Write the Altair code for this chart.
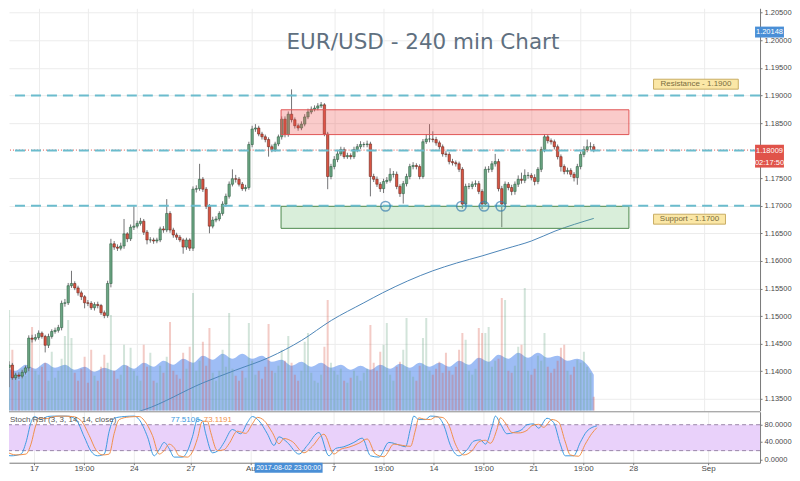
import altair as alt
import pandas as pd

# ---------------- data ----------------
bar_index = list(range(-10, 170))
opens = [1.1434,1.1407,1.1411,1.1388,1.1393,1.1391,1.1398,1.1406,1.1460,1.1458,
         1.1461,1.1469,1.1463,1.1447,1.1463,1.1472,1.1474,1.1479,1.1523,1.1524,
         1.1555,1.1559,1.1551,1.1542,1.1535,1.1524,1.1523,1.1515,1.1521,1.1519,
         1.1506,1.1501,1.1559,1.1631,1.1625,1.1623,1.1627,1.1649,1.1640,1.1661,
         1.1663,1.1668,1.1672,1.1652,1.1638,1.1638,1.1636,1.1638,1.1658,1.1656,
         1.1686,1.1656,1.1647,1.1643,1.1638,1.1625,1.1638,1.1623,1.1730,1.1731,
         1.1748,1.1730,1.1699,1.1663,1.1674,1.1676,1.1686,1.1703,1.1717,1.1739,
         1.1749,1.1748,1.1739,1.1731,1.1733,1.1811,1.1839,1.1841,1.1830,1.1825,
         1.1820,1.1807,1.1802,1.1812,1.1825,1.1857,1.1829,1.1866,1.1856,1.1845,
         1.1841,1.1848,1.1861,1.1870,1.1875,1.1877,1.1881,1.1883,1.1830,1.1753,
         1.1771,1.1784,1.1794,1.1802,1.1789,1.1791,1.1789,1.1802,1.1807,1.1811,
         1.1811,1.1812,1.1753,1.1748,1.1739,1.1731,1.1744,1.1746,1.1757,1.1757,
         1.1735,1.1722,1.1740,1.1753,1.1771,1.1773,1.1771,1.1753,1.1816,1.1821,
         1.1821,1.1820,1.1814,1.1807,1.1794,1.1793,1.1780,1.1778,1.1776,1.1766,
         1.1703,1.1735,1.1735,1.1739,1.1740,1.1726,1.1703,1.1766,1.1766,1.1776,
         1.1780,1.1731,1.1703,1.1739,1.1733,1.1726,1.1739,1.1748,1.1746,1.1755,
         1.1755,1.1751,1.1744,1.1766,1.1802,1.1825,1.1818,1.1816,1.1807,1.1789,
         1.1771,1.1762,1.1764,1.1757,1.1751,1.1771,1.1793,1.1802,1.1807,1.1807]
highs = [1.1441,1.1418,1.1415,1.1397,1.1398,1.1402,1.1410,1.1465,1.1466,1.1467,
         1.1474,1.1472,1.1466,1.1468,1.1476,1.1479,1.1484,1.1528,1.1531,1.1560,
         1.1582,1.1563,1.1555,1.1546,1.1538,1.1529,1.1527,1.1525,1.1526,1.1522,
         1.1510,1.1564,1.1640,1.1636,1.1630,1.1633,1.1676,1.1652,1.1666,1.1699,
         1.1673,1.1678,1.1676,1.1656,1.1643,1.1642,1.1642,1.1662,1.1663,1.1712,
         1.1690,1.1660,1.1651,1.1647,1.1641,1.1642,1.1641,1.1735,1.1737,1.1776,
         1.1752,1.1734,1.1703,1.1680,1.1681,1.1690,1.1708,1.1722,1.1744,1.1766,
         1.1756,1.1752,1.1743,1.1738,1.1816,1.1845,1.1848,1.1845,1.1834,1.1829,
         1.1824,1.1811,1.1816,1.1829,1.1862,1.1862,1.1871,1.1911,1.1860,1.1849,
         1.1853,1.1866,1.1876,1.1880,1.1882,1.1886,1.1888,1.1886,1.1834,1.1776,
         1.1790,1.1800,1.1807,1.1806,1.1796,1.1795,1.1807,1.1812,1.1817,1.1815,
         1.1818,1.1816,1.1758,1.1753,1.1743,1.1749,1.1752,1.1768,1.1763,1.1762,
         1.1739,1.1745,1.1758,1.1776,1.1779,1.1777,1.1775,1.1821,1.1830,1.1848,
         1.1835,1.1825,1.1818,1.1811,1.1799,1.1797,1.1785,1.1782,1.1780,1.1770,
         1.1740,1.1741,1.1744,1.1746,1.1745,1.1730,1.1771,1.1772,1.1781,1.1794,
         1.1785,1.1736,1.1744,1.1743,1.1738,1.1744,1.1755,1.1760,1.1766,1.1761,
         1.1759,1.1757,1.1770,1.1807,1.1830,1.1829,1.1822,1.1820,1.1811,1.1793,
         1.1775,1.1769,1.1768,1.1761,1.1776,1.1798,1.1808,1.1820,1.1815,1.1812]
lows = [1.1402,1.1371,1.1384,1.1384,1.1386,1.1387,1.1394,1.1400,1.1452,1.1454,
        1.1457,1.1459,1.1434,1.1442,1.1459,1.1468,1.1470,1.1474,1.1517,1.1520,
        1.1551,1.1547,1.1537,1.1529,1.1514,1.1518,1.1511,1.1510,1.1514,1.1502,
        1.1496,1.1497,1.1552,1.1620,1.1618,1.1619,1.1622,1.1634,1.1636,1.1656,
        1.1659,1.1664,1.1647,1.1630,1.1633,1.1631,1.1632,1.1634,1.1651,1.1652,
        1.1651,1.1642,1.1638,1.1634,1.1613,1.1620,1.1618,1.1618,1.1724,1.1727,
        1.1725,1.1694,1.1650,1.1659,1.1670,1.1672,1.1682,1.1698,1.1713,1.1735,
        1.1742,1.1735,1.1727,1.1726,1.1729,1.1806,1.1834,1.1826,1.1820,1.1815,
        1.1789,1.1797,1.1798,1.1808,1.1820,1.1824,1.1825,1.1851,1.1840,1.1836,
        1.1837,1.1844,1.1857,1.1866,1.1871,1.1873,1.1877,1.1826,1.1730,1.1748,
        1.1766,1.1779,1.1790,1.1785,1.1785,1.1784,1.1785,1.1797,1.1803,1.1806,
        1.1806,1.1717,1.1743,1.1734,1.1725,1.1723,1.1740,1.1742,1.1751,1.1730,
        1.1716,1.1704,1.1735,1.1748,1.1766,1.1766,1.1748,1.1749,1.1812,1.1815,
        1.1815,1.1809,1.1802,1.1789,1.1788,1.1775,1.1773,1.1771,1.1761,1.1695,
        1.1698,1.1730,1.1730,1.1734,1.1721,1.1694,1.1698,1.1760,1.1761,1.1771,
        1.1726,1.1661,1.1698,1.1728,1.1719,1.1720,1.1734,1.1740,1.1741,1.1749,
        1.1746,1.1737,1.1739,1.1761,1.1797,1.1813,1.1811,1.1802,1.1784,1.1762,
        1.1757,1.1757,1.1752,1.1744,1.1738,1.1766,1.1788,1.1797,1.1801,1.1797]
closes = [1.1407,1.1411,1.1388,1.1393,1.1391,1.1398,1.1406,1.1460,1.1458,1.1461,
          1.1469,1.1463,1.1447,1.1463,1.1472,1.1474,1.1479,1.1523,1.1524,1.1555,
          1.1559,1.1551,1.1542,1.1535,1.1524,1.1523,1.1515,1.1521,1.1519,1.1506,
          1.1501,1.1559,1.1631,1.1625,1.1623,1.1627,1.1649,1.1640,1.1661,1.1663,
          1.1668,1.1672,1.1652,1.1638,1.1638,1.1636,1.1638,1.1658,1.1656,1.1686,
          1.1656,1.1647,1.1643,1.1638,1.1625,1.1638,1.1623,1.1730,1.1731,1.1748,
          1.1730,1.1699,1.1663,1.1674,1.1676,1.1686,1.1703,1.1717,1.1739,1.1749,
          1.1748,1.1739,1.1731,1.1733,1.1811,1.1839,1.1841,1.1830,1.1825,1.1820,
          1.1807,1.1802,1.1812,1.1825,1.1857,1.1829,1.1866,1.1856,1.1845,1.1841,
          1.1848,1.1861,1.1870,1.1875,1.1877,1.1881,1.1883,1.1830,1.1753,1.1771,
          1.1784,1.1794,1.1802,1.1789,1.1791,1.1789,1.1802,1.1807,1.1811,1.1811,
          1.1812,1.1753,1.1748,1.1739,1.1731,1.1744,1.1746,1.1757,1.1757,1.1735,
          1.1722,1.1740,1.1753,1.1771,1.1773,1.1771,1.1753,1.1816,1.1821,1.1821,
          1.1820,1.1814,1.1807,1.1794,1.1793,1.1780,1.1778,1.1776,1.1766,1.1703,
          1.1735,1.1735,1.1739,1.1740,1.1726,1.1703,1.1766,1.1766,1.1776,1.1780,
          1.1731,1.1703,1.1739,1.1733,1.1726,1.1739,1.1748,1.1746,1.1755,1.1755,
          1.1751,1.1744,1.1766,1.1802,1.1825,1.1818,1.1816,1.1807,1.1789,1.1771,
          1.1762,1.1764,1.1757,1.1751,1.1771,1.1793,1.1802,1.1807,1.1807,1.1801]
volumes = [45,101,61,38,30,42,35,50,84,40,
           36,44,48,30,59,33,40,52,75,91,
           73,38,30,42,54,28,61,35,30,44,
           56,48,96,40,32,36,66,45,63,40,
           35,30,66,44,58,30,28,45,38,54,
           89,40,36,32,58,42,64,118,40,50,
           69,45,83,38,30,40,61,44,98,42,
           35,30,40,33,88,50,36,40,32,44,
           87,40,38,45,61,50,75,48,36,30,
           40,69,78,38,30,28,36,64,111,48,
           40,36,42,30,28,33,40,35,30,38,
           42,86,48,40,59,66,88,36,30,44,
           49,61,93,40,34,30,45,73,93,40,
           36,42,49,38,58,40,36,44,61,78,
           71,40,36,42,83,78,78,84,44,50,
           52,113,111,40,38,45,64,66,123,40,
           36,42,55,50,78,44,38,42,50,63,
           66,40,36,44,51,48,59,44,38,14]

vol_wave_index = [-10,-7,-4,-1,2,5,8,11,14,17,20,23,26,29,32,35,38,41,44,47,50,53,56,59,62,
                  65,68,71,74,77,80,83,86,89,92,95,98,101,104,107,110,113,116,119,122,125,
                  128,131,134,137,140,143,146,149,152,155,158,161,164,167,169]
vol_wave_value = [44,40,46,42,48,43,46,41,44,39,43,40,46,42,48,44,50,46,52,48,55,51,57,52,57,
                  52,55,49,51,45,49,44,48,43,46,41,45,41,46,42,47,43,48,44,48,44,
                  50,46,53,49,56,52,58,53,58,53,55,50,52,46,36]

ma_index = [25, 32.1, 50.1, 60, 70.2, 80.1, 89.1, 99, 104.7, 120, 127.2, 135, 142.2, 150, 157.2, 169]
ma_value = [1.1318, 1.1330, 1.1379, 1.1402, 1.1425, 1.1456, 1.1492, 1.1524, 1.1542, 1.1582,
            1.1596, 1.1609, 1.1622, 1.1636, 1.1654, 1.1677]

k_index = [-9.9,-6.9,-3.9,-2.4,-0.9,0.1,2.1,4.1,6.1,10.1,12.6,15.1,17.1,19.1,21.1,22.6,24.1,27.1,
           30.1,31.6,34.1,36.1,37.6,39.1,40.6,42.1,44.6,46.1,47.6,49.1,50.6,51.6,53.6,55.6,57.1,
           59.6,62.1,64.1,65.6,67.6,70.1,72.1,73.6,76.1,79.6,82.1,85.6,88.6,90.6,93.1,96.1,98.6,
           101.1,103.6,106.6,110.1,111.6,113.1,114.1,115.6,117.6,119.1,121.1,123.1,125.1,127.6,
           130.1,132.1,134.1,135.6,137.6,138.6,140.1,142.1,144.1,146.6,148.1,150.1,151.6,154.1,
           156.1,158.1,159.6,162.1,164.1,166.1,169.1]
k_value = [15,8,12,39,85,99,92,99,100,100,92,52,19,8,12,65,95,99,
           100,92,52,8,22,39,25,5,5,19,52,92,89,59,15,22,39,
           69,59,85,99,89,59,32,52,39,12,32,62,8,25,29,39,49,
           8,5,39,32,29,72,100,92,92,100,99,79,32,8,
           22,42,45,35,75,100,82,59,62,69,80,82,72,95,
           85,35,8,8,39,65,77.5]
d_index = [-8.4,-5.4,-2.4,-0.9,0.6,1.6,3.6,5.6,7.6,11.6,14.1,16.6,18.6,20.6,22.6,24.1,25.6,28.6,
           31.6,33.1,35.6,37.6,39.1,40.6,42.1,43.6,46.1,47.6,49.1,50.6,52.1,53.1,55.1,57.1,58.6,
           61.1,63.6,65.6,67.1,69.1,71.6,73.6,75.1,77.6,81.1,83.6,87.1,90.1,92.1,94.6,97.6,100.1,
           102.6,105.1,108.1,111.6,113.1,114.6,115.6,117.1,119.1,120.6,122.6,124.6,126.6,129.1,
           131.6,133.6,135.6,137.1,139.1,140.1,141.6,143.6,145.6,148.1,149.6,151.6,153.1,155.6,
           157.6,159.6,161.1,163.6,165.6,167.6,169.1]
d_value = [18,10,12,35,80,96,94,98,100,99,90,55,22,10,12,60,92,98,
           99,90,55,12,20,35,27,8,5,17,48,88,88,62,20,22,36,
           65,60,82,97,90,62,36,48,41,15,30,58,12,23,28,37,47,
           12,6,35,31,30,68,96,93,92,98,97,80,35,10,
           20,40,44,37,70,96,84,62,61,67,78,81,74,92,
           86,40,10,7,35,60,73.1]

level_prices = [1.19, 1.18, 1.17]
last_price = 1.18009
zone_start, zone_end = 73.8, 179.7
res_lo, res_hi = 1.1829, 1.1874
sup_lo, sup_hi = 1.1659, 1.1699
touch_index = [105.6, 128.7, 135.6, 140.7]
touch_price = 1.1699

tick_index = [0, 15, 30, 47, 65, 90, 105, 120, 135, 150, 165, 180, 202.5]
tick_label = ['17', '19:00', '24', '27', 'Au', '7', '19:00', '14', '19:00', '21', '19:00', '28', 'Sep']
price_ticks = [1.135, 1.14, 1.145, 1.15, 1.155, 1.16, 1.165, 1.17, 1.175, 1.185, 1.19, 1.195, 1.20, 1.205]

# ---------------- frames ----------------
df = pd.DataFrame({'i': bar_index, 'o': opens, 'h': highs, 'l': lows, 'c': closes, 'v': volumes})
df['dir'] = ['up' if c >= o else 'down' for o, c in zip(opens, closes)]
df_wave = pd.DataFrame({'i': vol_wave_index, 'v': vol_wave_value})
df_ma = pd.DataFrame({'i': ma_index, 'p': ma_value})
df_k = pd.DataFrame({'i': k_index, 'v': k_value})
df_d = pd.DataFrame({'i': d_index, 'v': d_value})

X_DOM = [-7.5, 218.1]
P_DOM = [1.13282, 1.2058]
V_DOM = [0, 403]
S_DOM = [-8, 110]
W = 752
H_MAIN = 403
H_STOCH = 51
FONT = 'Liberation Sans'
GRID = '#ececec'
AX = '#777777'
LBL = '#4a4a4a'

xscale = alt.Scale(domain=X_DOM, nice=False, zero=False)
x_axis_main = alt.Axis(values=tick_index, labels=False, ticks=False, domain=False,
                       grid=True, gridColor=GRID)
expr = " : ".join(f"datum.value == {v} ? '{l}'" for v, l in zip(tick_index, tick_label)) + " : ''"
x_axis_stoch = alt.Axis(values=tick_index, labelExpr=expr, grid=True, gridColor=GRID,
                        domainColor=AX, tickColor=AX, tickSize=2, labelPadding=0,
                        labelFont=FONT, labelFontSize=8, labelColor=LBL,
                        labelOverlap=False, labelFlush=False)
y_axis_price = alt.Axis(orient='right', values=price_ticks, format='.5f', grid=True,
                        gridColor=GRID, domainColor=AX, tickColor=AX, tickSize=2,
                        labelPadding=2, labelFont=FONT, labelFontSize=7.5, labelColor=LBL)
y_axis_stoch = alt.Axis(orient='right', values=[0, 40, 80], format='.4f', grid=False,
                        domainColor=AX, tickColor=AX, tickSize=2, labelPadding=2,
                        labelFont=FONT, labelFontSize=7.5, labelColor=LBL)


def xm(f):
    return alt.X(f'{f}:Q', scale=xscale, axis=x_axis_main, title=None)


def xs(f):
    return alt.X(f'{f}:Q', scale=xscale, axis=x_axis_stoch, title=None)


def yp(f):
    return alt.Y(f'{f}:Q', scale=alt.Scale(domain=P_DOM, nice=False, zero=False),
                 axis=y_axis_price, title=None)


def ys(f):
    return alt.Y(f'{f}:Q', scale=alt.Scale(domain=S_DOM, nice=False, zero=False),
                 axis=y_axis_stoch, title=None)


def yv(f):
    return alt.Y(f'{f}:Q', scale=alt.Scale(domain=V_DOM, nice=False), axis=None, title=None)


dir_fill = alt.Color('dir:N', scale=alt.Scale(domain=['up', 'down'], range=['#6ba583', '#d75442']), legend=None)
dir_stroke = alt.Stroke('dir:N', scale=alt.Scale(domain=['up', 'down'], range=['#225437', '#5b1a13']), legend=None)

base = alt.Chart(df)

# volume layers
vol_area = alt.Chart(df_wave).mark_area(color='#4f86ec', opacity=0.55, clip=True,
                                         interpolate='monotone').encode(x=xm('i'), y=yv('v'))
vol_bars = base.mark_bar(size=2, opacity=0.3, clip=True).encode(x=xm('i'), y=yv('v'), color=dir_fill)
vol_layer = alt.layer(vol_area, vol_bars)

# price layers
wicks = base.mark_rule(color='#737375', strokeWidth=1, clip=True).encode(x=xm('i'), y=yp('l'), y2='h')
bodies = base.mark_bar(size=2.4, strokeWidth=0.5, clip=True).encode(
    x=xm('i'), y=yp('o'), y2='c', color=dir_fill, stroke=dir_stroke)
ma = alt.Chart(df_ma).mark_line(color='#4d86b8', strokeWidth=1, clip=True,
                                interpolate='monotone').encode(x=xm('i'), y=yp('p'))

res_zone = alt.Chart(pd.DataFrame({'x1': [zone_start], 'x2': [zone_end], 'p1': [res_lo], 'p2': [res_hi]})).mark_rect(
    fill='#ef5350', fillOpacity=0.3, stroke='#e05555', strokeWidth=1).encode(
    x=xm('x1'), x2='x2', y=yp('p1'), y2='p2')
sup_zone = alt.Chart(pd.DataFrame({'x1': [zone_start], 'x2': [zone_end], 'p1': [sup_lo], 'p2': [sup_hi]})).mark_rect(
    fill='#66bb6a', fillOpacity=0.25, stroke='#4d8a4d', strokeWidth=1).encode(
    x=xm('x1'), x2='x2', y=yp('p1'), y2='p2')

cur_line = alt.Chart(pd.DataFrame({'p': [last_price]})).mark_rule(
    color='#e0504a', strokeDash=[1, 2], strokeWidth=1).encode(y=yp('p'))
levels = alt.Chart(pd.DataFrame({'p': level_prices})).mark_rule(
    color='#6bbccd', strokeDash=[10, 6], strokeWidth=2).encode(y=yp('p'))

touches = alt.Chart(pd.DataFrame({'i': touch_index, 'p': [touch_price] * len(touch_index)})).mark_point(
    shape='circle', size=90, filled=False, stroke='#3a7fb0', strokeWidth=1.6).encode(x=xm('i'), y=yp('p'))

tags = pd.DataFrame({'x1': [187.2, 187.2], 'x2': [213.0, 209.1],
                     'p1': [1.19114, 1.16666], 'p2': [1.19294, 1.16846],
                     'xc': [200.1, 198.15], 'pc': [1.19204, 1.16756],
                     't': ['Resistance - 1.1900', 'Support - 1.1700']})
tag_box = alt.Chart(tags).mark_rect(fill='#fbe7a6', stroke='#c9ad63', strokeWidth=1).encode(
    x=xm('x1'), x2='x2', y=yp('p1'), y2='p2')
tag_txt = alt.Chart(tags).mark_text(font=FONT, fontSize=8, color='#7a6d40').encode(
    x=xm('xc'), y=yp('pc'), text='t:N')

title_txt = alt.Chart(pd.DataFrame({'i': [117], 'p': [1.19946], 't': ['EUR/USD - 240 min Chart']})).mark_text(
    font='DejaVu Sans', fontSize=21.5, color='#5f7080').encode(x=xm('i'), y=yp('p'), text='t:N')

hi_badge = alt.Chart(pd.DataFrame({'x1': [218.1], 'x2': [226.9], 'p1': [1.2005], 'p2': [1.20248]})).mark_rect(
    fill='#4a8fd6', clip=False).encode(x=xm('x1'), x2='x2', y=yp('p1'), y2='p2')
last_badge = alt.Chart(pd.DataFrame({'x1': [218.1], 'x2': [226.9], 'p1': [1.17692], 'p2': [1.18106]})).mark_rect(
    fill='#e0534a', clip=False).encode(x=xm('x1'), x2='x2', y=yp('p1'), y2='p2')
badge_txt = alt.Chart(pd.DataFrame({'i': [222.5, 222.5, 222.5], 'p': [1.20148, 1.18000, 1.17782],
                                    't': ['1.20148', '1.18009', '02:17:50']})).mark_text(
    font=FONT, fontSize=7.5, color='white').encode(x=xm('i'), y=yp('p'), text='t:N')

price_layer = alt.layer(wicks, bodies, ma, res_zone, sup_zone, cur_line, levels, touches,
                        tag_box, tag_txt, title_txt, hi_badge, last_badge, badge_txt)

main = alt.layer(vol_layer, price_layer).resolve_scale(y='independent').properties(width=W, height=H_MAIN)

# stochastic RSI pane
band = alt.Chart(pd.DataFrame({'x1': [X_DOM[0]], 'x2': [X_DOM[1]], 'lo': [20], 'hi': [80]})).mark_rect(
    color='#e9d1fa').encode(x=xs('x1'), x2='x2', y=ys('lo'), y2='hi')
band_lines = alt.Chart(pd.DataFrame({'v': [20, 80]})).mark_rule(
    color='#9a86a8', strokeDash=[4, 3], strokeWidth=1).encode(y=ys('v'))
sep = alt.Chart(pd.DataFrame({'v': [110]})).mark_rule(color='#8a8a8a', strokeWidth=1).encode(y=ys('v'))
k_line = alt.Chart(df_k).mark_line(color='#3d9be0', strokeWidth=1, clip=True,
                                   interpolate='monotone').encode(x=xs('i'), y=ys('v'))
d_line = alt.Chart(df_d).mark_line(color='#f0904a', strokeWidth=1, clip=True,
                                   interpolate='monotone').encode(x=xs('i'), y=ys('v'))
name_txt = alt.Chart(pd.DataFrame({'i': [-7.2], 'v': [90], 't': ['Stoch RSI (3, 3, 14, 14, close)']})).mark_text(
    font=FONT, fontSize=8, align='left', color='#555555').encode(x=xs('i'), y=ys('v'), text='t:N')
k_txt = alt.Chart(pd.DataFrame({'i': [41.1], 'v': [90], 't': ['77.5106']})).mark_text(
    font=FONT, fontSize=8, align='left', color='#3d9be0').encode(x=xs('i'), y=ys('v'), text='t:N')
d_txt = alt.Chart(pd.DataFrame({'i': [51.0], 'v': [90], 't': ['73.1191']})).mark_text(
    font=FONT, fontSize=8, align='left', color='#f0904a').encode(x=xs('i'), y=ys('v'), text='t:N')
date_badge = alt.Chart(pd.DataFrame({'x1': [66.3], 'x2': [86.7], 'lo': [-31], 'hi': [-8]})).mark_rect(
    color='#4a8fd6', clip=False).encode(x=xs('x1'), x2='x2', y=ys('lo'), y2='hi')
date_txt = alt.Chart(pd.DataFrame({'i': [76.5], 'v': [-19.5], 't': ['2017-08-02 23:00:00']})).mark_text(
    font=FONT, fontSize=7, color='white').encode(x=xs('i'), y=ys('v'), text='t:N')

stoch = alt.layer(band, band_lines, sep, k_line, d_line, name_txt, k_txt, d_txt,
                  date_badge, date_txt).properties(width=W, height=H_STOCH)

chart = alt.vconcat(main, stoch, spacing=0, padding=0, background='white').configure_view(stroke=None)

chart.save("out.html", embed_options={"renderer": "svg", "actions": False})
